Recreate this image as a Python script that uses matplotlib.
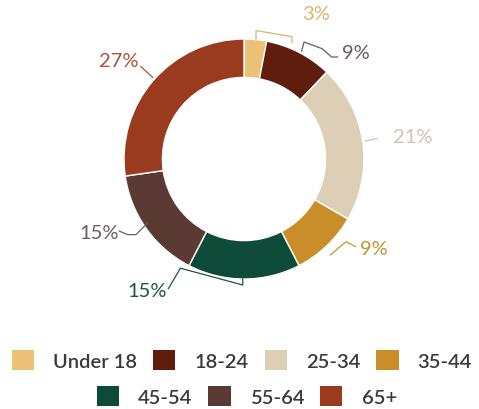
import matplotlib
matplotlib.use("Agg")
import matplotlib.pyplot as plt
from matplotlib.patches import Patch

# Age distribution shares (percent)
age_groups = ["Under 18", "18-24", "25-34", "35-44", "45-54", "55-64", "65+"]
shares = [3, 9, 21, 9, 15, 15, 27]

slice_colors = ["#EBC077", "#5E1D0D", "#DCCFB5", "#C98E2A", "#0E4A38", "#5B3A33", "#9A3A1F"]
label_colors = ["#D9B568", "#6E5862", "#CFC4B0", "#C4932F", "#1B5545", "#6F5C62", "#B0503A"]

# label anchor (text centre) and leader-line path for each slice, in pie units
label_pos = [(0.60, 1.21), (0.93, 0.89), (1.41, 0.19), (1.08, -0.75),
             (-0.81, -1.10), (-1.21, -0.61), (-1.04, 0.82)]
leader_paths = [
    [(0.10, 1.00), (0.10, 1.07), (0.40, 1.02), (0.40, 0.97)],
    [(0.48, 0.90), (0.50, 0.975), (0.65, 0.92), (0.73, 0.85), (0.78, 0.85)],
    [(1.01, 0.15), (1.11, 0.17)],
    [(0.72, -0.80), (0.80, -0.73), (0.85, -0.69), (0.93, -0.73)],
    [(-0.63, -1.08), (-0.53, -0.91), (-0.01, -1.05), (-0.01, -1.0)],
    [(-1.04, -0.60), (-0.97, -0.63), (-0.90, -0.63), (-0.81, -0.54)],
    [(-0.86, 0.77), (-0.76, 0.68)],
]

plt.rcParams["font.family"] = ["Lato", "DejaVu Sans"]

W, H = 479, 410
fig = plt.figure(figsize=(W / 100, H / 100), dpi=100)
ax = fig.add_axes([0, 0, 1, 1])

wedges, _ = ax.pie(shares, colors=slice_colors, startangle=90, counterclock=False,
                   radius=1.0, wedgeprops=dict(width=0.32, edgecolor="white", linewidth=1.0))

# place the ring: 120 px per unit radius, centred at (244, 160) from the top-left
scale = 120.0
cx, cy = 244, 160
ax.set_xlim(-cx / scale, (W - cx) / scale)
ax.set_ylim(-(H - cy) / scale, cy / scale)
ax.set_aspect("equal")
ax.axis("off")

for val, col, (tx, ty), path in zip(shares, label_colors, label_pos, leader_paths):
    xs, ys = zip(*path)
    ax.plot(xs, ys, color=col, lw=0.9, solid_joinstyle="round")
    ax.text(tx, ty, f"{val}%", color=col, fontsize=14.5, fontweight="normal",
            ha="center", va="center")

handles = [Patch(facecolor=c, edgecolor="none") for c in slice_colors]
common = dict(frameon=False, handlelength=1.1, handleheight=1.1,
              handletextpad=0.95, columnspacing=0.8, labelcolor="#3A3A3A",
              prop=dict(family=["Lato", "DejaVu Sans"], size=14.5, weight="semibold"))
leg1 = fig.legend(handles[:4], age_groups[:4], ncol=4, loc="center",
                  bbox_to_anchor=(0.505, 1 - 361 / H), **common)
leg2 = fig.legend(handles[4:], age_groups[4:], ncol=3, loc="center",
                  bbox_to_anchor=(0.515, 1 - 397 / H), **common)

fig.savefig("out.png", dpi=100)
